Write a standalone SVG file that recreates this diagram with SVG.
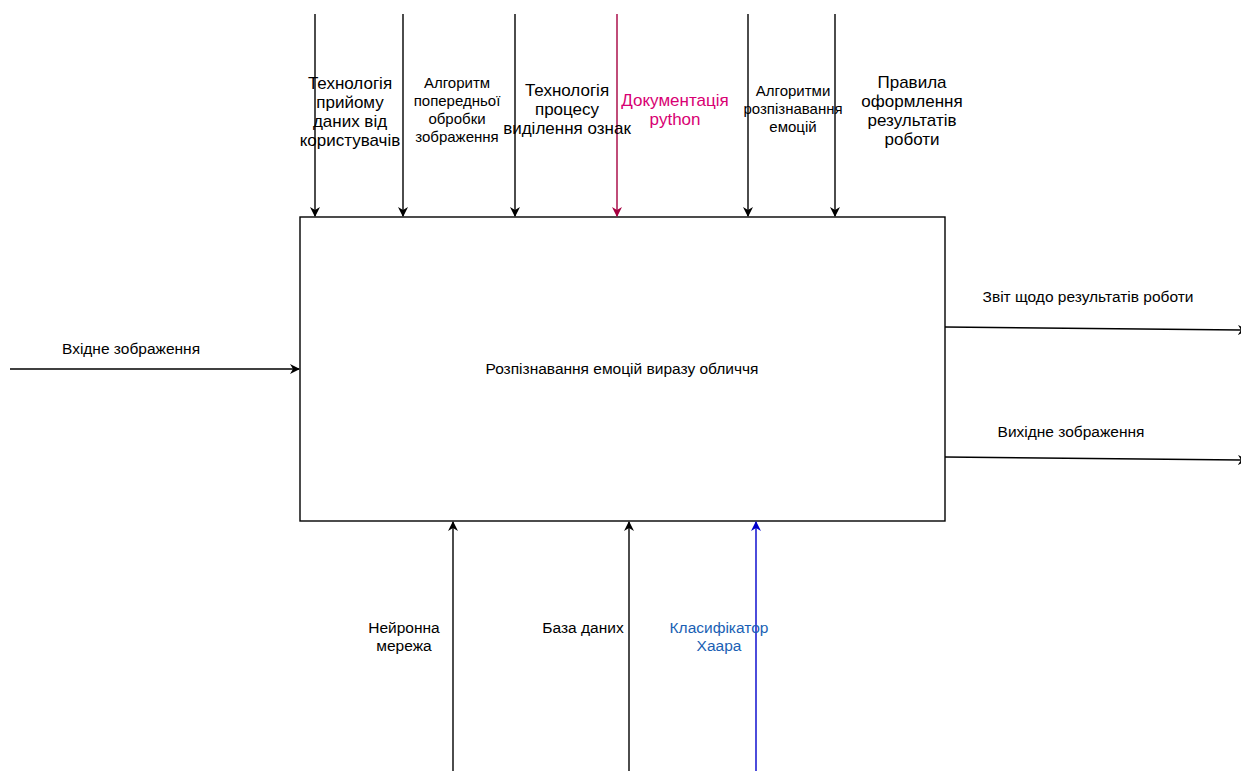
<svg xmlns="http://www.w3.org/2000/svg" width="1241" height="771" viewBox="0 0 1241 771">
  <style>
    text { font-family: "Liberation Sans", Arial, sans-serif; fill: #000; text-anchor: middle; }
    .lg { font-size: 17px; }
    .md { font-size: 15.5px; }
    .sm { font-size: 15px; }
    .ln { stroke: #000; stroke-width: 1.4; fill: none; }
    .pink { stroke: #A50040; }
    .blue { stroke: #0000CC; }
  </style>
  <defs>
    <marker id="ah" viewBox="0 0 10 10" refX="9" refY="5" markerWidth="10" markerHeight="10" markerUnits="userSpaceOnUse" orient="auto">
      <path d="M0,0 L10,5 L0,10 L3,5 Z" fill="#000"/>
    </marker>
    <marker id="ahPink" viewBox="0 0 10 10" refX="9" refY="5" markerWidth="10" markerHeight="10" markerUnits="userSpaceOnUse" orient="auto">
      <path d="M0,0 L10,5 L0,10 L3,5 Z" fill="#A50040"/>
    </marker>
    <marker id="ahBlue" viewBox="0 0 10 10" refX="9" refY="5" markerWidth="10" markerHeight="10" markerUnits="userSpaceOnUse" orient="auto">
      <path d="M0,0 L10,5 L0,10 L3,5 Z" fill="#0000CC"/>
    </marker>
  </defs>
  <rect width="1241" height="771" fill="#fff"/>

  <g id="process">
    <rect x="300" y="217" width="645" height="304" fill="#fff" stroke="#000" stroke-width="1.4"/>
    <text class="md" x="622" y="374">Розпізнавання емоцій виразу обличчя</text>
  </g>

  <g id="connectors">
    <!-- controls -->
    <line class="ln" x1="315" y1="14" x2="315" y2="216" marker-end="url(#ah)"/>
    <line class="ln" x1="403" y1="14" x2="403" y2="216" marker-end="url(#ah)"/>
    <line class="ln" x1="515" y1="14" x2="515" y2="216" marker-end="url(#ah)"/>
    <line class="ln pink" x1="617" y1="14" x2="617" y2="216" marker-end="url(#ahPink)"/>
    <line class="ln" x1="748" y1="14" x2="748" y2="216" marker-end="url(#ah)"/>
    <line class="ln" x1="835" y1="14" x2="835" y2="216" marker-end="url(#ah)"/>
    <!-- input -->
    <line class="ln" x1="10" y1="369" x2="299" y2="369" marker-end="url(#ah)"/>
    <!-- outputs -->
    <line class="ln" x1="945" y1="327" x2="1247" y2="330" marker-end="url(#ah)"/>
    <line class="ln" x1="945" y1="457" x2="1247" y2="460" marker-end="url(#ah)"/>
    <!-- mechanisms -->
    <line class="ln" x1="453" y1="771" x2="453" y2="522" marker-end="url(#ah)"/>
    <line class="ln" x1="629" y1="771" x2="629" y2="522" marker-end="url(#ah)"/>
    <line class="ln blue" x1="756" y1="771" x2="756" y2="522" marker-end="url(#ahBlue)"/>
  </g>

  <g id="label-control-1">
    <text class="lg" x="350" y="89">Технологія</text>
    <text class="lg" x="350" y="108">прийому</text>
    <text class="lg" x="350" y="127">даних від</text>
    <text class="lg" x="350" y="146">користувачів</text>
  </g>
  <g id="label-control-2">
    <text class="sm" x="457" y="88">Алгоритм</text>
    <text class="sm" x="457" y="106">попередньої</text>
    <text class="sm" x="457" y="124">обробки</text>
    <text class="sm" x="457" y="142">зображення</text>
  </g>
  <g id="label-control-3">
    <text class="lg" x="567" y="96">Технологія</text>
    <text class="lg" x="567" y="115">процесу</text>
    <text class="lg" x="567" y="134">виділення ознак</text>
  </g>
  <g id="label-control-4">
    <text class="lg" x="675" y="106" style="fill:#D80073">Документація</text>
    <text class="lg" x="675" y="125" style="fill:#D80073">python</text>
  </g>
  <g id="label-control-5">
    <text class="sm" x="793" y="96">Алгоритми</text>
    <text class="sm" x="793" y="114">розпізнавання</text>
    <text class="sm" x="793" y="132">емоцій</text>
  </g>
  <g id="label-control-6">
    <text class="lg" x="912" y="88">Правила</text>
    <text class="lg" x="912" y="107">оформлення</text>
    <text class="lg" x="912" y="126">результатів</text>
    <text class="lg" x="912" y="145">роботи</text>
  </g>
  <g id="label-input">
    <text class="md" x="131" y="354">Вхідне зображення</text>
  </g>
  <g id="label-output-1">
    <text class="md" x="1088" y="302">Звіт щодо результатів роботи</text>
  </g>
  <g id="label-output-2">
    <text class="md" x="1071" y="437">Вихідне зображення</text>
  </g>
  <g id="label-mech-1">
    <text class="md" x="404" y="633">Нейронна</text>
    <text class="md" x="404" y="651">мережа</text>
  </g>
  <g id="label-mech-2">
    <text class="md" x="583" y="633">База даних</text>
  </g>
  <g id="label-mech-3">
    <text class="md" x="719" y="633" style="fill:#1A5FB4">Класифікатор</text>
    <text class="md" x="719" y="651" style="fill:#1A5FB4">Хаара</text>
  </g>
</svg>
